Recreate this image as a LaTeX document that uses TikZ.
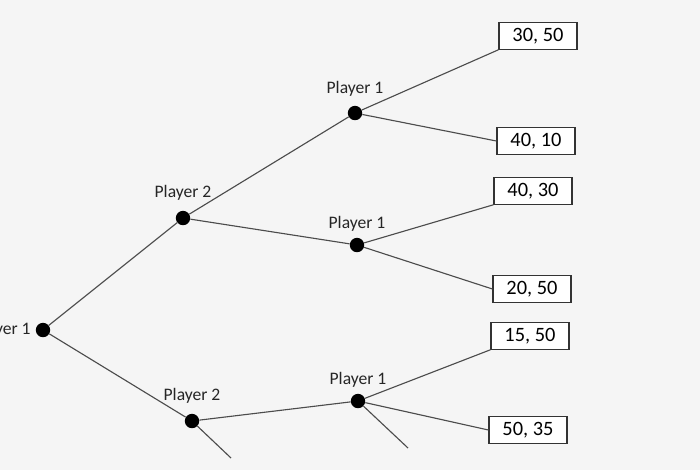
\documentclass[tikz,border=0pt]{standalone}
\usepackage{fontspec}
\setmainfont{Carlito}
\usetikzlibrary{positioning}

\begin{document}
\begin{tikzpicture}[
    x=0.025cm, y=-0.025cm,
    every label/.style={font=\fontsize{12.5}{14}\selectfont, text=black!85},
    dot/.style={
        circle,
        fill=black,
        inner sep=0pt,
        minimum size=0.36cm
    },
    payoff/.style={
        rectangle,
        draw=black!80,
        line width=0.8pt,
        fill=white,
        minimum width=1.95cm,
        minimum height=0.66cm,
        font=\fontsize{14.5}{16}\selectfont
    },
    edge/.style={draw=black!70, line width=0.8pt}
]

\fill[black!4] (0,0) rectangle (700,470);
\useasboundingbox (0,0) rectangle (700,470);

% decision nodes
\node[dot, label={left:Player 1}] (root) at (43,330) {};
\node[dot, label={[yshift=0.12cm]above:Player 2}] (p2a) at (183,218) {};
\node[dot, label={[yshift=0.12cm]above:Player 2}] (p2b) at (192,421) {};
\node[dot, label={[yshift=0.1cm]above:Player 1}] (p1a) at (355,113) {};
\node[dot, label={[yshift=0.02cm]above:Player 1}] (p1b) at (357,245) {};
\node[dot, label={[yshift=0.02cm]above:Player 1}] (p1c) at (358,401) {};

% payoffs
\node[payoff] (o1) at (538,36) {30, 50};
\node[payoff] (o2) at (536,141) {40, 10};
\node[payoff] (o3) at (533,191) {40, 30};
\node[payoff] (o4) at (532,289) {20, 50};
\node[payoff] (o5) at (530,336) {15, 50};
\node[payoff] (o6) at (528,430) {50, 35};

\coordinate (s1) at (231,458);
\coordinate (s2) at (408,448);

\draw[edge] (root) -- (p2a);
\draw[edge] (root) -- (p2b);
\draw[edge] (p2a) -- (p1a);
\draw[edge] (p2a) -- (p1b);
\draw[edge] (p2b) -- (p1c);
\draw[edge] (p2b) -- (s1);
\draw[edge] (p1a) -- (o1.south west);
\draw[edge] (p1a) -- (o2.west);
\draw[edge] (p1b) -- (o3.south west);
\draw[edge] (p1b) -- (o4.west);
\draw[edge] (p1c) -- (o5.south west);
\draw[edge] (p1c) -- (o6.west);
\draw[edge] (p1c) -- (s2);

\end{tikzpicture}
\end{document}
